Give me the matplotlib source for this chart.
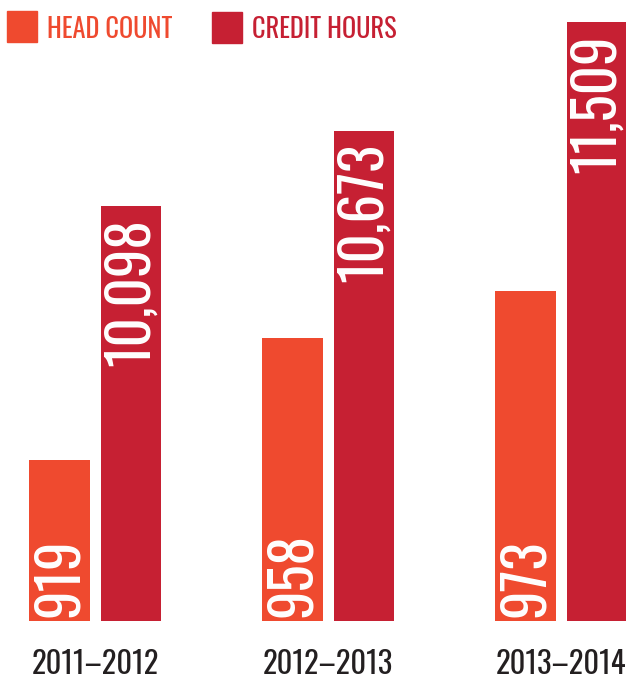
import matplotlib
matplotlib.use("Agg")
import matplotlib.pyplot as plt
import matplotlib.transforms as mtransforms
import numpy as np

years = ["2011–2012", "2012–2013", "2013–2014"]
head_count = [919, 958, 973]
credit_hours = [10098, 10673, 11509]
series_names = ["HEAD COUNT", "CREDIT HOURS"]

ORANGE = "#EF4A2F"
RED = "#C62033"
DARK = "#231F20"
FONT = ["Oswald", "DejaVu Sans"]

fig = plt.figure(figsize=(6.26, 6.79), dpi=100)
ax = fig.add_axes([0, 58 / 679, 1, 621 / 679])
ax2 = ax.twinx()

x = np.arange(len(years))
off = 0.1535
w = 0.258
hc_lo, hc_hi = 867.4, 1066.4
ch_lo, ch_hi = 6916, 11678

ax.bar(x - off, head_count, width=w, color=ORANGE)
ax2.bar(x + off, credit_hours, width=w, color=RED)

ax.set_xlim(-0.409, -0.409 + 626 / 233)
ax.set_ylim(hc_lo, hc_hi)
ax2.set_ylim(ch_lo, ch_hi)

for a in (ax, ax2):
    for s in a.spines.values():
        s.set_visible(False)
    a.set_yticks([])
    a.tick_params(length=0)

ax.set_xticks(x)
ax.set_xticklabels(years, fontsize=22, color=DARK, family=FONT)
ax.tick_params(axis="x", pad=20)

offs = mtransforms.offset_copy(ax.transData, fig=fig, x=0, y=4, units="dots")
offs2 = mtransforms.offset_copy(ax2.transData, fig=fig, x=0, y=-12, units="dots")
for i in range(len(years)):
    ax.text(x[i] - off, hc_lo, f"{head_count[i]:,}", transform=offs, rotation=90,
            ha="center", va="bottom", color="white", fontsize=41, family=FONT)
    ax2.text(x[i] + off, credit_hours[i], f"{credit_hours[i]:,}", transform=offs2,
             rotation=90, ha="center", va="top", color="white", fontsize=41, family=FONT)

# legend
fig.patches.append(plt.Rectangle((7 / 626, 1 - 42 / 679), 30 / 626, 31 / 679,
                                 transform=fig.transFigure, color=ORANGE))
fig.patches.append(plt.Rectangle((212 / 626, 1 - 43 / 679), 30 / 626, 31 / 679,
                                 transform=fig.transFigure, color=RED))
fig.text(47 / 626, 1 - 29 / 679, series_names[0], color=ORANGE, fontsize=19,
         family=FONT, va="center", ha="left")
fig.text(252 / 626, 1 - 29 / 679, series_names[1], color=RED, fontsize=19,
         family=FONT, va="center", ha="left")

fig.savefig("out.png", dpi=100)
